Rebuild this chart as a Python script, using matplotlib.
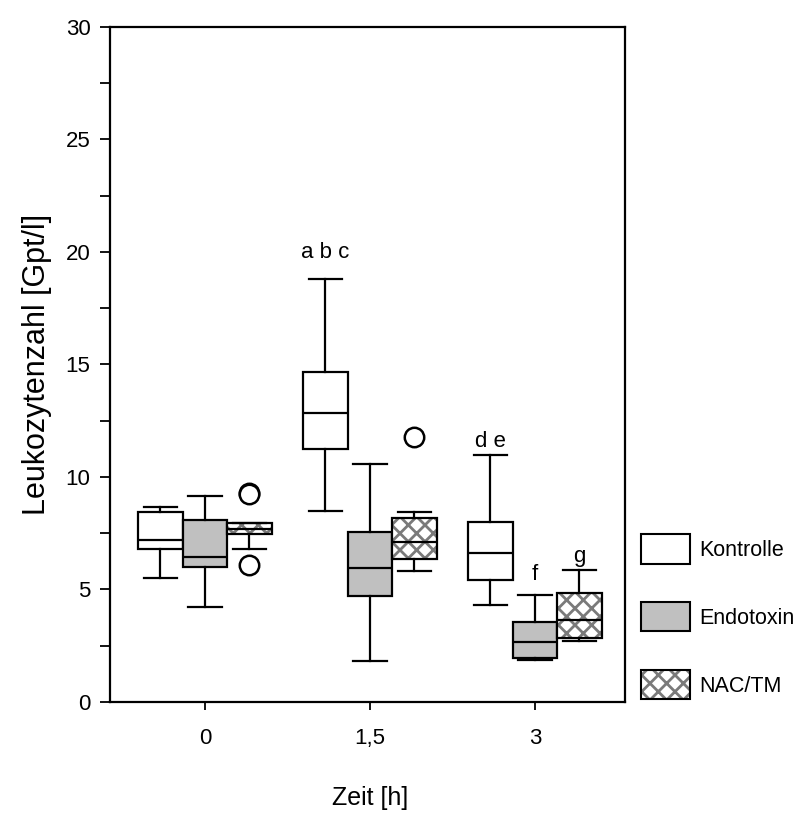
import matplotlib
matplotlib.use("Agg")
import matplotlib.pyplot as plt
import matplotlib.patches as mpatches
import numpy as np

plt.rcParams['font.family'] = ['Liberation Sans', 'DejaVu Sans']
plt.rcParams['hatch.linewidth'] = 2.0

# Zeitpunkte und Gruppen
zeiten = ["0", "1,5", "3"]
gruppen = ["Kontrolle", "Endotoxin", "NAC/TM"]

# Box-Kennwerte je Gruppe, Reihenfolge der Zeitpunkte: 0, 1,5, 3
kontrolle_whislo = [5.5, 8.5, 4.3]
kontrolle_q1 = [6.8, 11.25, 5.4]
kontrolle_med = [7.2, 12.85, 6.6]
kontrolle_q3 = [8.45, 14.65, 8.0]
kontrolle_whishi = [8.65, 18.8, 10.95]
kontrolle_fliers = [[], [], []]

endotoxin_whislo = [4.2, 1.8, 1.85]
endotoxin_q1 = [6.0, 4.7, 1.95]
endotoxin_med = [6.45, 5.95, 2.65]
endotoxin_q3 = [8.1, 7.55, 3.55]
endotoxin_whishi = [9.15, 10.55, 4.75]
endotoxin_fliers = [[], [], []]

nac_whislo = [6.8, 5.8, 2.7]
nac_q1 = [7.45, 6.35, 2.85]
nac_med = [7.7, 7.1, 3.65]
nac_q3 = [7.95, 8.15, 4.85]
nac_whishi = [7.95, 8.45, 5.85]
nac_fliers = [[9.3, 9.25, 6.1], [11.75], []]

# Signifikanz-Buchstaben: (Zeitindex, Gruppenindex, Text, y)
sig_labels = [(1, 0, "a b c", 19.5), (2, 0, "d e", 11.1), (2, 1, "f", 5.2), (2, 2, "g", 6.0)]

werte = {
    "Kontrolle": (kontrolle_whislo, kontrolle_q1, kontrolle_med, kontrolle_q3, kontrolle_whishi, kontrolle_fliers),
    "Endotoxin": (endotoxin_whislo, endotoxin_q1, endotoxin_med, endotoxin_q3, endotoxin_whishi, endotoxin_fliers),
    "NAC/TM": (nac_whislo, nac_q1, nac_med, nac_q3, nac_whishi, nac_fliers),
}
farben = {"Kontrolle": "white", "Endotoxin": "#c0c0c0", "NAC/TM": "white"}
muster = {"Kontrolle": None, "Endotoxin": None, "NAC/TM": "xx"}

fig = plt.figure(figsize=(8.02, 8.16), dpi=100)
ax = fig.add_axes([0.137, 0.14, 0.642, 0.827])

breite = 0.27
versatz = [-0.27, 0.0, 0.27]
x_basis = np.arange(len(zeiten))
lw = 1.6

for gi, name in enumerate(gruppen):
    lo, q1, med, q3, hi, fl = werte[name]
    stats = []
    for i in range(len(zeiten)):
        stats.append(dict(whislo=lo[i], q1=q1[i], med=med[i], q3=q3[i], whishi=hi[i], fliers=fl[i]))
    bp = ax.bxp(stats, positions=x_basis + versatz[gi], widths=breite, patch_artist=True,
                showfliers=True, manage_ticks=False,
                boxprops=dict(linewidth=lw),
                medianprops=dict(color="black", linewidth=lw),
                whiskerprops=dict(color="black", linewidth=lw),
                capprops=dict(color="black", linewidth=lw),
                capwidths=breite * 0.75,
                flierprops=dict(marker="o", markersize=14, markerfacecolor="white",
                                markeredgecolor="black", markeredgewidth=1.8))
    for box in bp["boxes"]:
        box.set_facecolor(farben[name])
        if muster[name]:
            box.set_hatch(muster[name])
            box.set_edgecolor("#7a7a7a")
            box.set_linewidth(0)
            rahmen = mpatches.PathPatch(box.get_path(), transform=box.get_transform(),
                                        facecolor="none", edgecolor="black", linewidth=lw,
                                        zorder=box.get_zorder() + 0.1)
            ax.add_patch(rahmen)
        else:
            box.set_edgecolor("black")
    for m in bp["medians"]:
        m.set_zorder(5)

for ti, gi, txt, y in sig_labels:
    ax.text(x_basis[ti] + versatz[gi], y, txt, ha="center", va="bottom", fontsize=16)

ax.set_xlim(-0.576, 2.545)
ax.set_ylim(0, 30)
ax.set_xticks(x_basis)
ax.set_xticklabels(zeiten, fontsize=16)
ax.set_yticks(np.arange(0, 31, 5))
ax.set_yticks(np.arange(2.5, 30, 5), minor=True)
ax.tick_params(axis="y", which="major", labelsize=16, length=7, width=1.3, direction="out", pad=7)
ax.tick_params(axis="y", which="minor", length=7, width=1.3, direction="out")
ax.tick_params(axis="x", length=6, width=1.3, direction="out", pad=13)
for s in ax.spines.values():
    s.set_linewidth(1.6)

ax.set_ylabel("Leukozytenzahl [Gpt/l]", fontsize=22)
ax.yaxis.set_label_coords(-0.113, 0.5)
ax.set_xlabel("Zeit [h]", fontsize=18)
ax.xaxis.set_label_coords(0.505, -0.125)

handles = []
for name in gruppen:
    if muster[name]:
        gefuellt = mpatches.Patch(facecolor=farben[name], edgecolor="#7a7a7a", hatch=muster[name], linewidth=0)
        kante = mpatches.Patch(facecolor="none", edgecolor="black", linewidth=1.5)
        handles.append((gefuellt, kante))
    else:
        handles.append(mpatches.Patch(facecolor=farben[name], edgecolor="black", linewidth=1.5))
fig.legend(handles, gruppen, loc="upper left", bbox_to_anchor=(0.799, 0.345), frameon=False,
           fontsize=15.5, handlelength=2.3, handleheight=1.7, labelspacing=1.8, handletextpad=0.4,
           borderpad=0, borderaxespad=0)

fig.savefig("out.png", dpi=100)
